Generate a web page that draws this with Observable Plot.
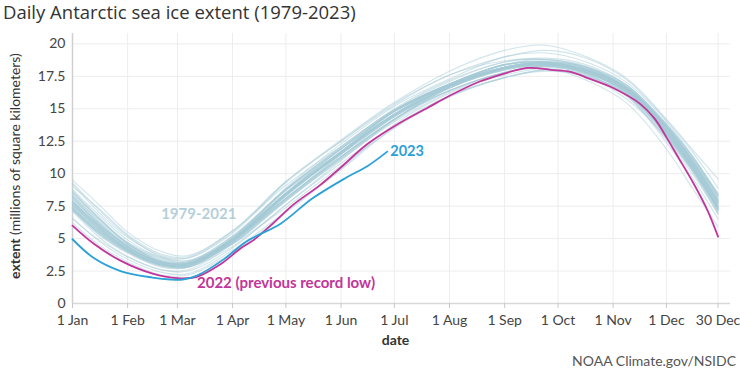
<!DOCTYPE html>
<html><head><meta charset="utf-8">
<script src="https://cdn.jsdelivr.net/npm/d3@7"></script>
<script src="https://cdn.jsdelivr.net/npm/@observablehq/plot@0.6"></script>
<style>
body{margin:0;background:#fff;font-family:Lato,"Open Sans",sans-serif;}
#title{height:26px;line-height:24px;font-size:18.5px;color:#333;padding-left:3px;white-space:nowrap;font-family:"Open Sans",Lato,sans-serif;}
#caption{height:20px;line-height:20px;font-size:14px;color:#555;text-align:right;padding-right:4px;}
</style></head><body>
<div id="title">Daily Antarctic sea ice extent (1979-2023)</div>
<div id="chart"></div>
<div id="caption">NOAA Climate.gov/NSIDC</div>
<script>
// ---- data (day of year, 0 = 1 Jan) ----
const xTickDays = [0, 31, 59, 90, 120, 151, 181, 212, 243, 273, 304, 334, 363];
const xTickLabels = ["1 Jan","1 Feb","1 Mar","1 Apr","1 May","1 Jun","1 Jul","1 Aug","1 Sep","1 Oct","1 Nov","1 Dec","30 Dec"];
const yTicks = [0, 2.5, 5, 7.5, 10, 12.5, 15, 17.5, 20];

const historicalYears = [1979,1980,1981,1982,1983,1984,1985,1986,1987,1988,1989,1990,1991,1992,1993,1994,1995,1996,1997,1998,1999,2000,2001,2002,2003,2004,2005,2006,2007,2008,2009,2010,2011,2012,2013,2014,2015,2016,2017,2018,2019,2020,2021];
const historicalDays = [0, 15, 31, 50, 65, 90, 120, 151, 181, 212, 243, 266, 289, 312, 334, 349, 363];
const historicalExtent = [
  [7.6,5.8,4.3,3.2,3.1,4.7,8.0,11.2,14.2,16.6,18.0,18.3,17.9,16.6,13.4,10.6,7.6],
  [8.8,6.8,4.9,3.5,3.2,5.0,8.7,11.7,14.8,16.9,18.4,18.8,18.2,16.5,13.6,10.9,7.9],
  [8.2,6.1,4.4,3.1,2.9,4.8,8.3,11.6,14.6,16.8,18.2,18.5,17.7,16.0,12.7,10.1,7.0],
  [7.3,5.5,4.1,3.0,3.0,5.1,8.8,12.1,14.9,16.9,18.4,18.6,18.0,16.5,13.5,10.8,7.8],
  [7.9,6.0,4.3,3.1,3.0,5.0,8.5,11.5,14.4,16.7,18.1,18.5,18.0,16.4,13.2,10.5,7.5],
  [7.6,5.7,4.1,3.0,3.0,4.9,8.1,11.3,14.2,16.4,17.8,18.2,17.7,16.3,13.1,10.4,7.3],
  [7.4,5.6,4.1,3.1,3.1,5.0,8.4,11.5,14.4,16.6,18.1,18.4,17.8,16.4,13.3,10.6,7.7],
  [7.8,6.0,4.4,3.2,3.1,4.6,7.4,10.6,13.5,15.9,17.4,17.9,17.5,16.1,13.0,10.3,7.2],
  [7.3,5.4,4.0,3.0,3.1,5.0,8.5,11.7,14.8,16.9,18.4,18.5,18.0,16.5,13.4,10.6,7.6],
  [7.7,5.8,4.3,3.2,3.1,4.9,8.3,11.6,14.5,16.7,18.1,18.4,17.8,16.3,13.3,10.7,7.8],
  [8.1,6.2,4.4,3.2,3.0,4.6,7.9,11.1,14.0,16.3,17.8,18.3,17.8,16.4,13.2,10.4,7.3],
  [7.4,5.6,4.1,3.0,3.0,4.8,8.1,11.3,14.2,16.6,18.0,18.4,17.9,16.4,13.3,10.5,7.4],
  [7.5,5.7,4.1,3.0,3.0,4.9,8.5,11.9,14.8,16.8,18.2,18.5,17.8,16.2,13.0,10.3,7.2],
  [7.2,5.3,3.9,2.8,2.8,4.7,8.1,11.5,14.4,16.7,18.1,18.4,17.9,16.4,13.4,10.7,7.7],
  [7.7,5.8,4.2,3.1,3.0,4.9,8.4,11.6,14.5,16.7,18.1,18.5,17.9,16.3,13.1,10.4,7.4],
  [7.3,5.4,4.0,2.9,2.9,4.9,8.5,11.9,14.8,16.9,18.4,18.6,18.1,16.6,13.5,10.8,7.9],
  [7.9,5.9,4.2,3.0,3.0,4.9,8.4,11.6,14.5,16.7,18.2,18.5,18.0,16.5,13.6,10.9,8.0],
  [8.0,6.1,4.4,3.2,3.1,4.9,8.1,11.3,14.2,16.6,18.0,18.3,17.8,16.3,13.2,10.5,7.5],
  [7.6,5.7,4.1,3.0,2.9,4.6,7.9,11.2,14.2,16.4,17.8,18.3,17.8,16.3,13.2,10.4,7.3],
  [7.4,5.5,4.0,3.0,3.0,5.0,8.7,11.9,14.8,16.8,18.2,18.5,18.0,16.6,13.7,11.0,8.1],
  [8.3,6.4,4.6,3.3,3.1,4.8,8.1,11.3,14.4,16.7,18.1,18.4,17.9,16.5,13.5,10.8,7.8],
  [7.9,5.9,4.2,3.0,2.9,4.8,8.3,11.6,14.5,16.7,18.1,18.4,17.8,16.2,12.9,10.2,7.1],
  [7.2,5.3,3.9,2.9,3.0,4.9,8.4,11.7,14.6,16.7,18.1,18.3,17.7,16.2,13.1,10.4,7.4],
  [7.4,5.5,4.0,2.9,2.8,4.4,7.6,10.8,13.7,16.0,17.4,18.0,17.5,16.1,13.0,10.3,7.3],
  [7.6,6.0,4.5,3.5,3.3,5.2,8.8,11.9,14.8,16.8,18.1,18.5,18.0,16.6,13.6,11.0,8.4],
  [9.3,7.2,5.2,3.6,3.3,5.0,8.4,11.7,14.6,16.9,18.2,18.6,18.2,16.7,13.7,11.1,8.2],
  [8.5,6.5,4.6,3.2,3.0,4.9,8.4,11.6,14.6,16.8,18.2,18.6,18.1,16.5,13.3,10.6,7.5],
  [7.8,5.9,4.2,3.0,2.8,4.7,8.3,11.7,14.9,17.1,18.6,18.8,18.3,16.8,13.8,11.2,8.5],
  [8.6,6.6,4.7,3.4,3.2,5.1,8.8,12.0,14.9,16.9,18.4,18.7,18.2,16.7,13.8,11.2,8.3],
  [9.0,7.3,5.3,3.8,3.6,5.6,9.1,12.1,14.9,16.9,18.2,18.4,18.0,16.6,13.7,11.0,8.2],
  [8.7,6.6,4.6,3.3,3.1,5.0,8.5,11.7,14.8,16.9,18.4,18.6,18.1,16.5,13.5,10.9,8.0],
  [8.4,6.3,4.5,3.3,3.2,5.2,8.8,12.0,15.0,17.2,18.6,18.9,18.4,16.8,13.6,10.9,7.8],
  [8.2,6.1,4.4,3.1,2.9,4.9,8.4,11.6,14.6,16.8,18.2,18.5,18.0,16.4,13.0,10.1,6.9],
  [7.2,5.5,4.2,3.2,3.1,5.0,8.9,12.3,15.2,17.3,19.0,19.3,18.6,17.0,14.0,11.3,8.3],
  [8.6,6.5,4.7,3.6,3.5,5.5,9.4,12.5,15.4,17.6,19.0,19.5,18.9,17.2,14.1,11.6,8.9],
  [9.5,7.6,5.5,4.0,3.7,5.6,9.4,12.6,15.5,17.9,19.5,19.9,19.0,17.3,14.2,11.8,9.6],
  [9.2,7.0,5.1,3.7,3.5,5.4,9.3,12.5,15.3,17.6,18.7,18.8,18.2,16.8,13.8,11.3,8.4],
  [8.3,6.2,4.4,3.1,2.9,4.8,8.5,11.7,14.5,16.4,17.8,18.1,17.2,15.4,11.9,8.8,5.9],
  [6.2,4.5,3.2,2.2,2.2,3.9,7.0,10.3,13.6,16.0,17.4,18.0,17.6,15.9,12.6,9.9,6.9],
  [6.6,4.8,3.4,2.4,2.3,4.1,7.1,10.4,13.8,16.2,17.6,18.1,17.5,15.7,12.8,10.2,7.2],
  [7.1,5.1,3.6,2.6,2.5,4.3,7.6,11.0,14.1,16.4,17.8,18.3,17.6,16.0,12.4,9.6,6.5],
  [6.5,4.9,3.6,2.6,2.6,4.6,8.0,11.5,14.8,16.9,18.2,18.6,18.2,16.6,13.5,10.8,7.9],
  [7.8,5.9,4.2,3.0,2.8,4.8,8.0,11.1,14.2,16.8,18.35,18.6,17.9,16.1,12.8,10.3,7.4]
];

const days2022 = [0,12,27,45,59,70,83,95,102,113,124,139,151,166,184,200,212,229,240,256,269,280,291,304,319,327,334,340,349,357,363];
const extent2022 = [6.0,4.6,3.3,2.3,1.95,2.05,3.0,4.3,4.9,6.2,7.6,9.1,10.5,12.3,13.9,15.1,16.0,17.1,17.6,18.15,18.0,17.85,17.3,16.6,15.4,14.3,12.8,11.4,9.3,7.2,5.15];

const days2023 = [0,12,27,45,55,62,70,85,98,117,135,154,166,177];
const extent2023 = [4.95,3.5,2.5,2.0,1.85,1.85,2.15,3.4,4.8,6.15,8.1,9.7,10.6,11.7];

// ---- build tables ----
const historical = historicalYears.flatMap((yr, i) =>
  historicalDays.map((d, j) => ({year: yr, day: d, value: historicalExtent[i][j]})));
const rows2022 = days2022.map((d, i) => ({day: d, value: extent2022[i]}));
const rows2023 = days2023.map((d, i) => ({day: d, value: extent2023[i]}));
const labelByDay = new Map(xTickDays.map((d, i) => [d, xTickLabels[i]]));

const magenta = "#c2359a";
const blue23 = "#2ba1d7";

const chart = Plot.plot({
  width: 740, height: 325,
  marginTop: 7, marginBottom: 48, marginLeft: 72, marginRight: 10,
  style: {fontFamily: "Lato, 'Open Sans', sans-serif", fontSize: "14px", color: "#444", background: "#fff"},
  x: {domain: [0, 370]},
  y: {domain: [0, 20.8]},
  marks: [
    Plot.gridX(xTickDays, {stroke: "#ededed", strokeOpacity: 1}),
    Plot.gridY(yTicks, {stroke: "#ededed", strokeOpacity: 1}),
    Plot.ruleX([0], {stroke: "#cfcfcf", strokeWidth: 1.5}),
    Plot.ruleY([0], {stroke: "#d8d8d8", strokeWidth: 1.5}),
    Plot.axisX(xTickDays, {tickFormat: d => labelByDay.get(d), tickSize: 5, tickPadding: 7, stroke: "#c8c8c8", fill: "#444", label: null, fontSize: 14}),
    Plot.axisY(yTicks, {tickFormat: d => String(d), tickSize: 0, tickPadding: 7, fill: "#444", label: null, fontSize: 14}),
    Plot.line(historical, {x: "day", y: "value", z: "year", stroke: "#a6cbd8", strokeOpacity: 0.5, strokeWidth: 1.1, curve: "catmull-rom"}),
    Plot.line(rows2022, {x: "day", y: "value", stroke: magenta, strokeWidth: 1.8, curve: "catmull-rom"}),
    Plot.line(rows2023, {x: "day", y: "value", stroke: blue23, strokeWidth: 1.8, curve: "catmull-rom"}),
    Plot.text(["1979-2021"], {x: 71, y: 6.85, text: d => d, fill: "#b5cfd9", fontWeight: "bold", fontSize: 15}),
    Plot.text(["2022 (previous record low)"], {x: 70, y: 1.55, text: d => d, textAnchor: "start", fill: magenta, fontWeight: "bold", fontSize: 15}),
    Plot.text(["2023"], {x: days2023[days2023.length - 1], y: extent2023[extent2023.length - 1], text: d => d, textAnchor: "start", dx: 3, fill: blue23, fontWeight: "bold", fontSize: 14.5}),
    Plot.text(["date"], {frameAnchor: "bottom", dy: 41, dx: -6, text: d => d, fill: "#333", fontWeight: "bold", fontSize: 14})
  ]
});
document.getElementById("chart").appendChild(chart);

// rotated y-axis title with bold first word
const svg = d3.select(chart);
const yl = svg.append("text")
  .attr("transform", "translate(16,140) rotate(-90)")
  .attr("text-anchor", "middle")
  .attr("dominant-baseline", "middle")
  .attr("fill", "#333")
  .style("font-size", "14px")
  .style("font-family", "Lato, 'Open Sans', sans-serif");
yl.append("tspan").attr("font-weight", "bold").text("extent");
yl.append("tspan").text(" (millions of square kilometers)");
</script>
</body></html>
